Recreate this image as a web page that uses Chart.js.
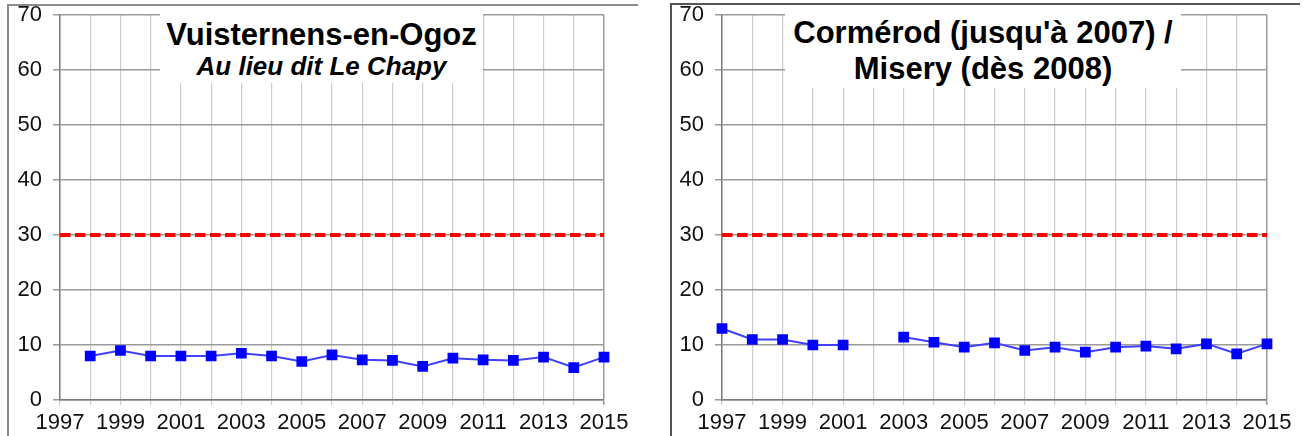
<!DOCTYPE html>
<html lang="fr">
<head>
<meta charset="UTF-8">
<title>Vuisternens-en-Ogoz / Cormérod - Misery</title>
<script src="https://cdn.jsdelivr.net/npm/chart.js"></script>
<style>
  body { margin: 0; background: #fff; width: 1304px; height: 436px; overflow: hidden; position: relative;
         font-family: "Liberation Sans", Arial, sans-serif; }
  canvas { position: absolute; top: 0; }
  #leftFrame { position: absolute; left: 7px; top: 4px; width: 629px; height: 440px;
               border-top: 2px solid #8c8c8c; border-left: 2px solid #8c8c8c; }
  #rightFrame { position: absolute; left: 670px; top: 3px; width: 628px; height: 440px;
                border-top: 2px solid #555; border-left: 2px solid #555; }
  .titleBox { position: absolute; background: #fff; color: #000; font-weight: bold; }
  .titleBox div { position: absolute; left: 0; right: 0; text-align: center; line-height: 1; white-space: nowrap; }
</style>
</head>
<body>
<div id="leftFrame"></div>
<div id="rightFrame"></div>
<canvas id="chartLeft" width="650" height="436" style="left:0"></canvas>
<canvas id="chartRight" width="654" height="436" style="left:650px"></canvas>

<div class="titleBox" style="left:160px; top:10px; width:323px; height:73px;">
  <div style="top:9px; font-size:31px;">Vuisternens-en-Ogoz</div>
  <div style="top:43px; font-size:26px; font-style:italic;">Au lieu dit Le Chapy</div>
</div>
<div class="titleBox" style="left:785px; top:10px; width:396px; height:78px;">
  <div style="top:7px; font-size:31px;">Cormérod (jusqu'à 2007) /</div>
  <div style="top:43px; font-size:31px;">Misery (dès 2008)</div>
</div>

<script>
// data
const years = ['1997', '1998', '1999', '2000', '2001', '2002', '2003', '2004', '2005', '2006',
               '2007', '2008', '2009', '2010', '2011', '2012', '2013', '2014', '2015'];
const vuisternens = [null, 8, 9, 8, 8, 8, 8.5, 8, 7, 8.2, 7.3, 7.2, 6.1, 7.6, 7.3, 7.2, 7.8, 5.9, 7.8];
const cormerod = [13, 11, 11, 10, 10, null, 11.45, 10.5, 9.6, 10.4, 9.0, 9.6, 8.7, 9.6, 9.8, 9.3, 10.2, 8.4, 10.2];
const limitValue = 30;
const yMin = 0;
const yMax = 70;
const yStep = 10;

const fontFamily = '"Liberation Sans", Arial, sans-serif';

function makeChart(id, values, axisWidth, rightPad) {
    const ctx = document.getElementById(id).getContext('2d');
    return new Chart(ctx, {
        type: 'line',
        data: {
            labels: years,
            datasets: [
                {
                    // limit value
                    data: [{ x: years[0], y: limitValue }, { x: years[years.length - 1], y: limitValue }],
                    borderColor: '#ff0000',
                    borderWidth: 4,
                    borderDash: [10.5, 4.5],
                    pointRadius: 0,
                    fill: false,
                    order: 2
                },
                {
                    data: values,
                    borderColor: '#4040ff',
                    borderWidth: 2,
                    pointStyle: 'rect',
                    pointRadius: 7.6,
                    pointBackgroundColor: '#0000ff',
                    pointBorderColor: '#0000ff',
                    pointBorderWidth: 0,
                    spanGaps: false,
                    fill: false,
                    order: 1
                }
            ]
        },
        options: {
            responsive: false,
            animation: false,
            layout: { padding: { top: 15, right: rightPad, left: 0, bottom: 0 } },
            plugins: { legend: { display: false }, tooltip: { enabled: false } },
            scales: {
                x: {
                    grid: {
                        // last vertical line is the plot border, a bit darker
                        color: (c) => (c.index === years.length - 1 ? '#9a9a9a' : '#cccccc'),
                        lineWidth: (c) => (c.index === years.length - 1 ? 1.5 : 1.2),
                        tickLength: 5,
                        offset: false
                    },
                    border: { color: '#7a7a7a', width: 1.5 },
                    ticks: {
                        autoSkip: false,
                        maxRotation: 0,
                        padding: 5,
                        color: '#111111',
                        font: { family: fontFamily, size: 22 },
                        callback: (v, i) => (i % 2 === 0 ? years[i] : '')
                    },
                    afterFit: (s) => { s.height = 36; s.paddingLeft = 0; s.paddingRight = 0; }
                },
                y: {
                    min: yMin,
                    max: yMax,
                    grid: { color: '#9a9a9a', lineWidth: 1.5, tickLength: 7 },
                    border: { color: '#7a7a7a', width: 1.5 },
                    ticks: {
                        stepSize: yStep,
                        padding: 11,
                        color: '#111111',
                        font: { family: fontFamily, size: 22 }
                    },
                    afterFit: (s) => { s.width = axisWidth; s.paddingTop = 0; s.paddingBottom = 0; }
                }
            }
        }
    });
}

makeChart('chartLeft', vuisternens, 60, 46);
makeChart('chartRight', cormerod, 72, 37);
</script>
</body>
</html>
